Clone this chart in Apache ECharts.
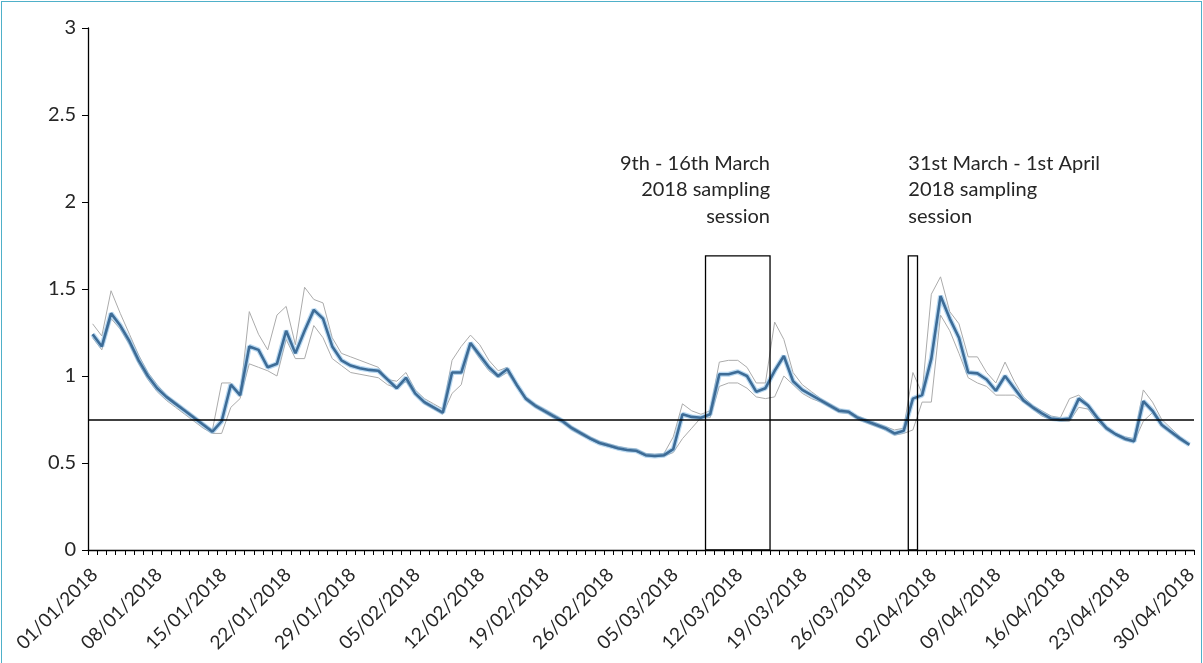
<!DOCTYPE html>
<html>
<head>
<meta charset="utf-8">
<script src="https://cdn.jsdelivr.net/npm/echarts@6/dist/echarts.min.js"></script>
<style>
  html, body { margin: 0; padding: 0; background: #fff; }
  #frame { position: absolute; left: 1px; top: 1px; width: 1199px; height: 680px; border: 1px solid #4fb0c9; }
  #chart { position: absolute; left: 0; top: 0; width: 1203px; height: 663px; }
</style>
</head>
<body>
<div id="frame"></div>
<div id="chart"></div>
<script>
// Daily dates, 01/01/2018 to 30/04/2018
const dates = [];
(function () {
  const d = new Date(Date.UTC(2018, 0, 1));
  for (let i = 0; i < 120; i++) {
    const dd = String(d.getUTCDate()).padStart(2, '0');
    const mm = String(d.getUTCMonth() + 1).padStart(2, '0');
    dates.push(dd + '/' + mm + '/' + d.getUTCFullYear());
    d.setUTCDate(d.getUTCDate() + 1);
  }
})();

// Mean daily value
const meanValues = [
  1.24, 1.17, 1.36, 1.29, 1.20, 1.09, 1.00, 0.93, 0.88, 0.84,
  0.80, 0.76, 0.72, 0.68, 0.74, 0.95, 0.89, 1.17, 1.15, 1.05,
  1.07, 1.26, 1.13, 1.26, 1.38, 1.33, 1.17, 1.09, 1.06, 1.045,
  1.035, 1.03, 0.98, 0.93, 0.99, 0.90, 0.85, 0.82, 0.79, 1.02,
  1.02, 1.19, 1.12, 1.05, 1.00, 1.04, 0.95, 0.87, 0.83, 0.80,
  0.77, 0.74, 0.70, 0.67, 0.64, 0.615, 0.60, 0.585, 0.575, 0.57,
  0.545, 0.54, 0.545, 0.58, 0.78, 0.765, 0.76, 0.78, 1.01, 1.01,
  1.025, 1.00, 0.91, 0.93, 1.03, 1.115, 0.97, 0.92, 0.89, 0.86,
  0.83, 0.80, 0.795, 0.76, 0.74, 0.72, 0.70, 0.67, 0.685, 0.87,
  0.89, 1.10, 1.46, 1.33, 1.22, 1.02, 1.015, 0.98, 0.915, 1.00,
  0.93, 0.86, 0.82, 0.785, 0.755, 0.75, 0.755, 0.87, 0.83, 0.76,
  0.70, 0.665, 0.64, 0.625, 0.855, 0.80, 0.72, 0.68, 0.64, 0.605
];

// Upper bound
const upperValues = [
  1.30, 1.23, 1.49, 1.36, 1.24, 1.12, 1.02, 0.95, 0.89, 0.85,
  0.81, 0.77, 0.73, 0.69, 0.96, 0.96, 0.88, 1.37, 1.24, 1.15,
  1.35, 1.40, 1.18, 1.51, 1.44, 1.42, 1.22, 1.13, 1.11, 1.09,
  1.07, 1.05, 0.98, 0.97, 1.02, 0.92, 0.87, 0.84, 0.81, 1.09,
  1.17, 1.235, 1.18, 1.09, 1.03, 1.05, 0.96, 0.88, 0.84, 0.81,
  0.78, 0.75, 0.71, 0.68, 0.65, 0.625, 0.61, 0.595, 0.585, 0.58,
  0.555, 0.55, 0.555, 0.65, 0.84, 0.80, 0.78, 0.80, 1.08, 1.09,
  1.09, 1.05, 0.96, 0.96, 1.31, 1.21, 1.02, 0.95, 0.91, 0.87,
  0.84, 0.81, 0.80, 0.77, 0.75, 0.73, 0.71, 0.69, 0.70, 1.02,
  0.90, 1.47, 1.57, 1.37, 1.30, 1.11, 1.11, 1.02, 0.96, 1.08,
  0.97, 0.88, 0.83, 0.80, 0.77, 0.76, 0.87, 0.89, 0.84, 0.77,
  0.71, 0.67, 0.65, 0.64, 0.92, 0.85, 0.75, 0.70, 0.65, 0.61
];

// Lower bound
const lowerValues = [
  1.22, 1.15, 1.33, 1.27, 1.18, 1.07, 0.98, 0.91, 0.86, 0.82,
  0.78, 0.74, 0.70, 0.67, 0.67, 0.82, 0.87, 1.07, 1.05, 1.03,
  1.00, 1.21, 1.10, 1.10, 1.29, 1.22, 1.10, 1.06, 1.02, 1.01,
  1.00, 0.99, 0.95, 0.93, 0.97, 0.89, 0.84, 0.81, 0.78, 0.90,
  0.95, 1.18, 1.10, 1.03, 0.99, 1.02, 0.94, 0.86, 0.82, 0.79,
  0.76, 0.73, 0.69, 0.66, 0.635, 0.61, 0.595, 0.58, 0.57, 0.565,
  0.54, 0.535, 0.54, 0.56, 0.64, 0.70, 0.76, 0.76, 0.94, 0.96,
  0.96, 0.93, 0.88, 0.87, 0.88, 1.00, 0.95, 0.90, 0.87, 0.85,
  0.82, 0.79, 0.785, 0.75, 0.73, 0.71, 0.69, 0.66, 0.67, 0.69,
  0.85, 0.85, 1.35, 1.26, 1.13, 0.99, 0.96, 0.94, 0.89, 0.89,
  0.89, 0.85, 0.81, 0.77, 0.75, 0.74, 0.74, 0.82, 0.81, 0.74,
  0.69, 0.66, 0.63, 0.62, 0.74, 0.79, 0.71, 0.67, 0.63, 0.60
];

const thresholdValue = 0.75;

// Sampling sessions: start date, end date, box height
const sessionStarts = ['09/03/2018', '31/03/2018'];
const sessionEnds = ['16/03/2018', '01/04/2018'];
const sessionTops = [1.69, 1.69];
const sessionNotes = [
  '9th - 16th March\n2018 sampling\nsession',
  '31st March - 1st April\n2018 sampling\nsession'
];

const yTicks = { min: 0, max: 3, interval: 0.5 };

const FONT = 'Lato, "Open Sans", sans-serif';
const TEXT = '#262626';

const sessionData = sessionStarts.map((s, i) => [dates.indexOf(s), dates.indexOf(sessionEnds[i]), sessionTops[i]]);

const chart = echarts.init(document.getElementById('chart'), null, { renderer: 'canvas' });

chart.setOption({
  animation: false,
  backgroundColor: 'transparent',
  grid: { left: 88, top: 28, width: 1106, height: 522, containLabel: false },
  xAxis: {
    type: 'category',
    data: dates,
    boundaryGap: true,
    axisLine: { lineStyle: { color: '#000', width: 1.3 } },
    axisTick: { show: true, interval: 0, length: 5, lineStyle: { color: '#000', width: 1 } },
    axisLabel: {
      interval: 6,
      rotate: 45,
      margin: 10,
      verticalAlign: 'top',
      padding: [0, 7, 0, 0],
      fontSize: 19,
      fontFamily: FONT,
      color: TEXT
    },
    splitLine: { show: false }
  },
  yAxis: {
    type: 'value',
    min: yTicks.min,
    max: yTicks.max,
    interval: yTicks.interval,
    axisLine: { show: true, lineStyle: { color: '#000', width: 1.3 } },
    axisTick: { show: true, length: 6, lineStyle: { color: '#000', width: 1 } },
    axisLabel: { margin: 12, fontSize: 20, fontFamily: FONT, color: TEXT },
    splitLine: { show: false }
  },
  series: [
    {
      name: 'lower',
      type: 'line',
      data: lowerValues,
      symbol: 'none',
      lineStyle: { color: '#ababab', width: 1 },
      z: 2
    },
    {
      name: 'upper',
      type: 'line',
      data: upperValues,
      symbol: 'none',
      lineStyle: { color: '#ababab', width: 1 },
      z: 2
    },
    {
      name: 'mean halo',
      type: 'line',
      data: meanValues,
      symbol: 'none',
      lineStyle: { color: '#7db8e6', width: 5, opacity: 0.55 },
      z: 3
    },
    {
      name: 'mean',
      type: 'line',
      data: meanValues,
      symbol: 'none',
      lineStyle: { color: '#3d6c97', width: 2.6 },
      z: 4,
      markLine: {
        silent: true,
        symbol: 'none',
        label: { show: false },
        lineStyle: { color: '#000', width: 1.5, type: 'solid' },
        data: [{ yAxis: thresholdValue }]
      }
    },
    {
      name: 'sessions',
      type: 'custom',
      data: sessionData,
      encode: { x: [0, 1], y: 2 },
      z: 5,
      renderItem: function (params, api) {
        const half = api.size([1, 0])[0] / 2;
        const p0 = api.coord([api.value(0), 0]);
        const p1 = api.coord([api.value(1), api.value(2)]);
        return {
          type: 'rect',
          shape: { x: p0[0] - half, y: p1[1], width: p1[0] - p0[0], height: p0[1] - p1[1] },
          style: { fill: 'none', stroke: '#000', lineWidth: 1.3 }
        };
      }
    }
  ]
});

// Session notes placed beside their boxes
(function () {
  const half = (chart.convertToPixel({ xAxisIndex: 0 }, dates[1]) - chart.convertToPixel({ xAxisIndex: 0 }, dates[0])) / 2;
  const box1Right = chart.convertToPixel({ xAxisIndex: 0 }, sessionEnds[0]) - half;
  const box2Left = chart.convertToPixel({ xAxisIndex: 0 }, sessionStarts[1]) - half;
  const top = 150;
  const noteStyle = { textVerticalAlign: 'top', fontSize: 20, lineHeight: 26.5, fontFamily: FONT, fill: TEXT };
  chart.setOption({
    graphic: [
      {
        type: 'text', x: box1Right, y: top, z: 10,
        style: Object.assign({ text: sessionNotes[0], textAlign: 'right' }, noteStyle)
      },
      {
        type: 'text', x: box2Left, y: top, z: 10,
        style: Object.assign({ text: sessionNotes[1], textAlign: 'left' }, noteStyle)
      }
    ]
  });
})();
</script>
</body>
</html>
